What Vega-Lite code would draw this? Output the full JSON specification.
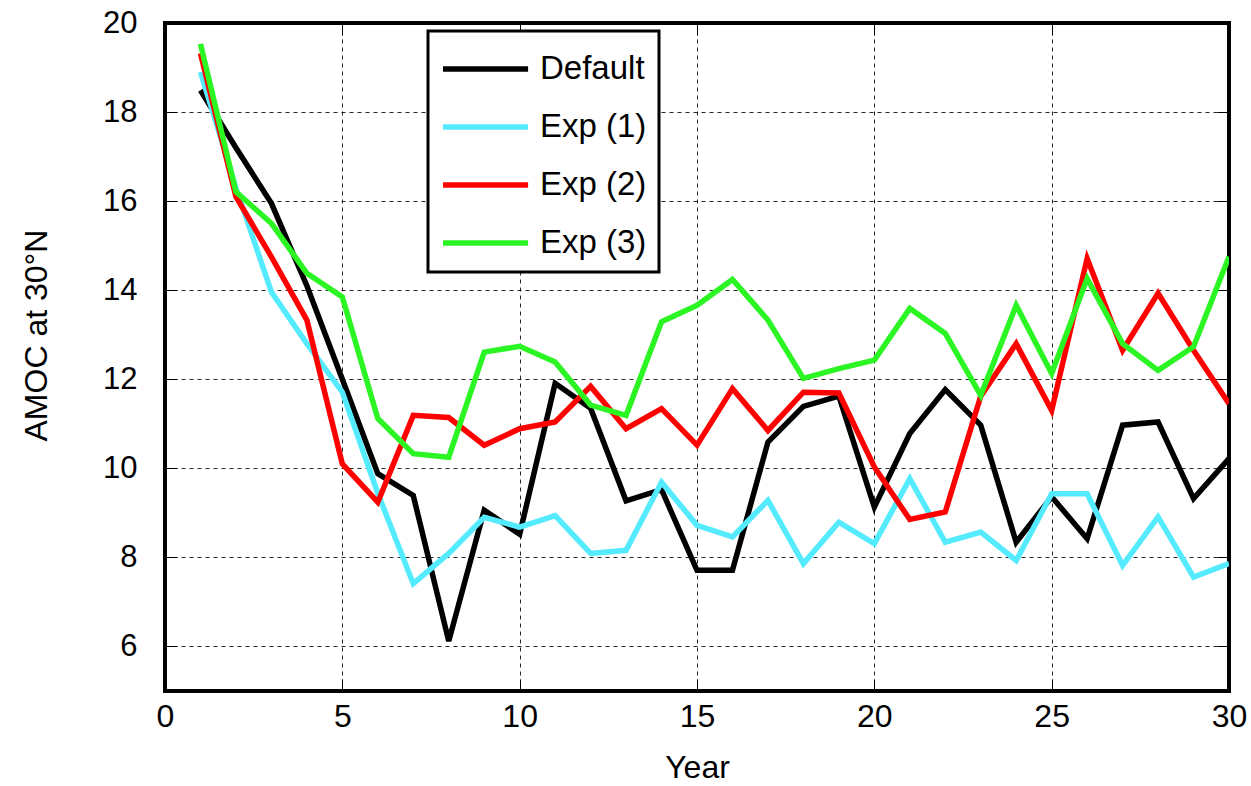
{
  "$schema": "https://vega.github.io/schema/vega-lite/v6.json",
  "autosize": {"type": "none"},
  "padding": {"left": 165, "top": 23, "right": 22, "bottom": 95},
  "width": 1064,
  "height": 668,
  "background": "white",
  "config": {
    "view": {"stroke": "black", "strokeWidth": 4},
    "axis": {
      "domain": false,
      "grid": true,
      "gridColor": "black",
      "gridDash": [4, 4],
      "gridWidth": 1,
      "gridOpacity": 0.85,
      "tickColor": "black",
      "tickSize": -12,
      "tickWidth": 1,
      "labelColor": "black",
      "titleColor": "black",
      "titleFontWeight": "normal",
      "labelFont": "Liberation Sans",
      "titleFont": "Liberation Sans"
    }
  },
  "data": {
    "values": [
      {"Year": 1, "Series": "Default", "Value": 18.49},
      {"Year": 2, "Series": "Default", "Value": 17.2},
      {"Year": 3, "Series": "Default", "Value": 15.95},
      {"Year": 4, "Series": "Default", "Value": 14.1},
      {"Year": 5, "Series": "Default", "Value": 12.0},
      {"Year": 6, "Series": "Default", "Value": 9.88},
      {"Year": 7, "Series": "Default", "Value": 9.39},
      {"Year": 8, "Series": "Default", "Value": 6.12},
      {"Year": 9, "Series": "Default", "Value": 9.06},
      {"Year": 10, "Series": "Default", "Value": 8.52},
      {"Year": 11, "Series": "Default", "Value": 11.91},
      {"Year": 12, "Series": "Default", "Value": 11.35},
      {"Year": 13, "Series": "Default", "Value": 9.27},
      {"Year": 14, "Series": "Default", "Value": 9.52},
      {"Year": 15, "Series": "Default", "Value": 7.71},
      {"Year": 16, "Series": "Default", "Value": 7.71},
      {"Year": 17, "Series": "Default", "Value": 10.59},
      {"Year": 18, "Series": "Default", "Value": 11.39},
      {"Year": 19, "Series": "Default", "Value": 11.62},
      {"Year": 20, "Series": "Default", "Value": 9.13},
      {"Year": 21, "Series": "Default", "Value": 10.78},
      {"Year": 22, "Series": "Default", "Value": 11.77},
      {"Year": 23, "Series": "Default", "Value": 10.97},
      {"Year": 24, "Series": "Default", "Value": 8.34},
      {"Year": 25, "Series": "Default", "Value": 9.36},
      {"Year": 26, "Series": "Default", "Value": 8.42},
      {"Year": 27, "Series": "Default", "Value": 10.97},
      {"Year": 28, "Series": "Default", "Value": 11.04},
      {"Year": 29, "Series": "Default", "Value": 9.32},
      {"Year": 30, "Series": "Default", "Value": 10.22},
      {"Year": 1, "Series": "Exp (1)", "Value": 18.9},
      {"Year": 2, "Series": "Exp (1)", "Value": 16.3},
      {"Year": 3, "Series": "Exp (1)", "Value": 13.96},
      {"Year": 4, "Series": "Exp (1)", "Value": 12.8},
      {"Year": 5, "Series": "Exp (1)", "Value": 11.71},
      {"Year": 6, "Series": "Exp (1)", "Value": 9.44},
      {"Year": 7, "Series": "Exp (1)", "Value": 7.41},
      {"Year": 8, "Series": "Exp (1)", "Value": 8.09},
      {"Year": 9, "Series": "Exp (1)", "Value": 8.9},
      {"Year": 10, "Series": "Exp (1)", "Value": 8.68},
      {"Year": 11, "Series": "Exp (1)", "Value": 8.94},
      {"Year": 12, "Series": "Exp (1)", "Value": 8.09},
      {"Year": 13, "Series": "Exp (1)", "Value": 8.16},
      {"Year": 14, "Series": "Exp (1)", "Value": 9.69},
      {"Year": 15, "Series": "Exp (1)", "Value": 8.72},
      {"Year": 16, "Series": "Exp (1)", "Value": 8.46},
      {"Year": 17, "Series": "Exp (1)", "Value": 9.28},
      {"Year": 18, "Series": "Exp (1)", "Value": 7.86},
      {"Year": 19, "Series": "Exp (1)", "Value": 8.79},
      {"Year": 20, "Series": "Exp (1)", "Value": 8.31},
      {"Year": 21, "Series": "Exp (1)", "Value": 9.77},
      {"Year": 22, "Series": "Exp (1)", "Value": 8.34},
      {"Year": 23, "Series": "Exp (1)", "Value": 8.57},
      {"Year": 24, "Series": "Exp (1)", "Value": 7.93},
      {"Year": 25, "Series": "Exp (1)", "Value": 9.43},
      {"Year": 26, "Series": "Exp (1)", "Value": 9.43},
      {"Year": 27, "Series": "Exp (1)", "Value": 7.82},
      {"Year": 28, "Series": "Exp (1)", "Value": 8.91},
      {"Year": 29, "Series": "Exp (1)", "Value": 7.56},
      {"Year": 30, "Series": "Exp (1)", "Value": 7.86},
      {"Year": 1, "Series": "Exp (2)", "Value": 19.32},
      {"Year": 2, "Series": "Exp (2)", "Value": 16.1},
      {"Year": 3, "Series": "Exp (2)", "Value": 14.75},
      {"Year": 4, "Series": "Exp (2)", "Value": 13.33},
      {"Year": 5, "Series": "Exp (2)", "Value": 10.1},
      {"Year": 6, "Series": "Exp (2)", "Value": 9.24},
      {"Year": 7, "Series": "Exp (2)", "Value": 11.19},
      {"Year": 8, "Series": "Exp (2)", "Value": 11.14},
      {"Year": 9, "Series": "Exp (2)", "Value": 10.52},
      {"Year": 10, "Series": "Exp (2)", "Value": 10.89},
      {"Year": 11, "Series": "Exp (2)", "Value": 11.04},
      {"Year": 12, "Series": "Exp (2)", "Value": 11.84},
      {"Year": 13, "Series": "Exp (2)", "Value": 10.89},
      {"Year": 14, "Series": "Exp (2)", "Value": 11.34},
      {"Year": 15, "Series": "Exp (2)", "Value": 10.52},
      {"Year": 16, "Series": "Exp (2)", "Value": 11.79},
      {"Year": 17, "Series": "Exp (2)", "Value": 10.85},
      {"Year": 18, "Series": "Exp (2)", "Value": 11.71},
      {"Year": 19, "Series": "Exp (2)", "Value": 11.69},
      {"Year": 20, "Series": "Exp (2)", "Value": 10.03},
      {"Year": 21, "Series": "Exp (2)", "Value": 8.85},
      {"Year": 22, "Series": "Exp (2)", "Value": 9.02},
      {"Year": 23, "Series": "Exp (2)", "Value": 11.62},
      {"Year": 24, "Series": "Exp (2)", "Value": 12.8},
      {"Year": 25, "Series": "Exp (2)", "Value": 11.3},
      {"Year": 26, "Series": "Exp (2)", "Value": 14.71},
      {"Year": 27, "Series": "Exp (2)", "Value": 12.65},
      {"Year": 28, "Series": "Exp (2)", "Value": 13.93},
      {"Year": 29, "Series": "Exp (2)", "Value": 12.65},
      {"Year": 30, "Series": "Exp (2)", "Value": 11.45},
      {"Year": 1, "Series": "Exp (3)", "Value": 19.53},
      {"Year": 2, "Series": "Exp (3)", "Value": 16.21},
      {"Year": 3, "Series": "Exp (3)", "Value": 15.5},
      {"Year": 4, "Series": "Exp (3)", "Value": 14.38},
      {"Year": 5, "Series": "Exp (3)", "Value": 13.85},
      {"Year": 6, "Series": "Exp (3)", "Value": 11.12},
      {"Year": 7, "Series": "Exp (3)", "Value": 10.33},
      {"Year": 8, "Series": "Exp (3)", "Value": 10.25},
      {"Year": 9, "Series": "Exp (3)", "Value": 12.61},
      {"Year": 10, "Series": "Exp (3)", "Value": 12.74},
      {"Year": 11, "Series": "Exp (3)", "Value": 12.39},
      {"Year": 12, "Series": "Exp (3)", "Value": 11.42},
      {"Year": 13, "Series": "Exp (3)", "Value": 11.19},
      {"Year": 14, "Series": "Exp (3)", "Value": 13.29},
      {"Year": 15, "Series": "Exp (3)", "Value": 13.66},
      {"Year": 16, "Series": "Exp (3)", "Value": 14.24},
      {"Year": 17, "Series": "Exp (3)", "Value": 13.33},
      {"Year": 18, "Series": "Exp (3)", "Value": 12.02},
      {"Year": 19, "Series": "Exp (3)", "Value": 12.24},
      {"Year": 20, "Series": "Exp (3)", "Value": 12.43},
      {"Year": 21, "Series": "Exp (3)", "Value": 13.59},
      {"Year": 22, "Series": "Exp (3)", "Value": 13.03},
      {"Year": 23, "Series": "Exp (3)", "Value": 11.64},
      {"Year": 24, "Series": "Exp (3)", "Value": 13.66},
      {"Year": 25, "Series": "Exp (3)", "Value": 12.13},
      {"Year": 26, "Series": "Exp (3)", "Value": 14.26},
      {"Year": 27, "Series": "Exp (3)", "Value": 12.8},
      {"Year": 28, "Series": "Exp (3)", "Value": 12.2},
      {"Year": 29, "Series": "Exp (3)", "Value": 12.73},
      {"Year": 30, "Series": "Exp (3)", "Value": 14.75}
    ]
  },
  "resolve": {"axis": {"x": "independent", "y": "independent"}},
  "layer": [
    {
      "mark": {"type": "line", "strokeWidth": 5.5, "clip": true},
      "encoding": {
        "x": {
          "field": "Year",
          "type": "quantitative",
          "scale": {"domain": [0, 30], "nice": false, "zero": false},
          "axis": {
            "values": [0, 5, 10, 15, 20, 25, 30],
            "title": "Year",
            "titleFontSize": 32,
            "titlePadding": 20,
            "labelFontSize": 32,
            "labelPadding": 22,
            "labelFlush": false
          }
        },
        "y": {
          "field": "Value",
          "type": "quantitative",
          "scale": {"domain": [5, 20], "nice": false, "zero": false},
          "axis": {
            "values": [6, 8, 10, 12, 14, 16, 18, 20],
            "title": "AMOC at 30°N",
            "titleFontSize": 32,
            "titlePadding": 49,
            "titleY": 312,
            "labelFontSize": 31,
            "labelPadding": 40,
            "labelFlush": false
          }
        },
        "color": {
          "field": "Series",
          "type": "nominal",
          "scale": {
            "domain": ["Default", "Exp (1)", "Exp (2)", "Exp (3)"],
            "range": ["#000000", "#55EBFF", "#FF0000", "#2BF523"]
          },
          "legend": {
            "title": null,
            "orient": "none",
            "legendX": 263,
            "legendY": 8,
            "direction": "vertical",
            "padding": 12,
            "strokeColor": "black",
            "fillColor": "white",
            "symbolType": "M-1,0H2.7",
            "symbolSize": 2116,
            "symbolStrokeWidth": 5.5,
            "rowPadding": 15,
            "labelFont": "Liberation Sans",
            "labelFontSize": 33,
            "labelColor": "black",
            "labelOffset": 48,
            "encoding": {"legend": {"strokeWidth": {"value": 3}}}
          }
        }
      }
    },
    {
      "mark": {"type": "line", "opacity": 0, "clip": true},
      "encoding": {
        "x": {
          "field": "Year",
          "type": "quantitative",
          "axis": {
            "orient": "top",
            "values": [0, 5, 10, 15, 20, 25, 30],
            "labels": false,
            "grid": false,
            "title": null
          }
        },
        "y": {
          "field": "Value",
          "type": "quantitative",
          "axis": {
            "orient": "right",
            "values": [6, 8, 10, 12, 14, 16, 18, 20],
            "labels": false,
            "grid": false,
            "title": null
          }
        },
        "detail": {"field": "Series", "type": "nominal"}
      }
    }
  ]
}
